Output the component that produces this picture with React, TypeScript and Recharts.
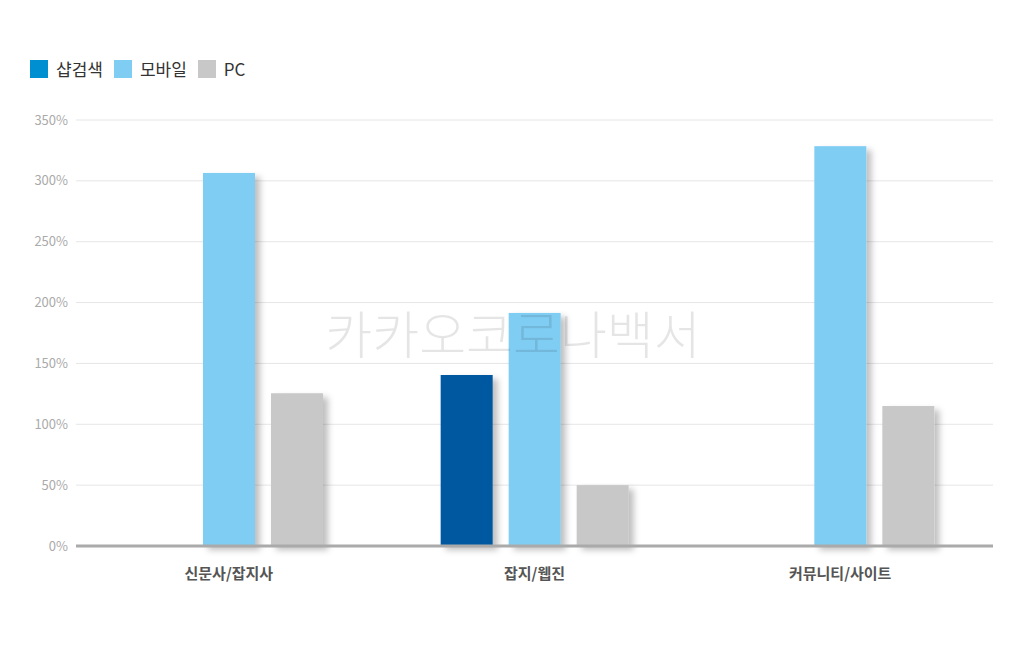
import { BarChart, Bar, XAxis, YAxis, CartesianGrid } from 'recharts';

const categories = ['신문사/잡지사', '잡지/웹진', '커뮤니티/사이트'];
const shopSearch = [null, 140.5, null];
const mobile = [306.5, 191.5, 328.5];
const pc = [125.5, 50, 115];
const yTicks = [0, 50, 100, 150, 200, 250, 300, 350];

const series = [
  { key: 'shop', name: '샵검색', fill: '#0059a1', legend: '#0090d2' },
  { key: 'mobile', name: '모바일', fill: '#80cdf4', legend: '#80cdf4' },
  { key: 'pc', name: 'PC', fill: '#c8c8c8', legend: '#c8c8c8' },
];

const data = categories.map((name, i) => ({
  name,
  shop: shopSearch[i],
  mobile: mobile[i],
  pc: pc[i],
}));

const font = '"Noto Sans CJK KR", "Noto Sans", sans-serif';

function ShadowBar(props: any) {
  const { x, y, width, height, fill } = props;
  if (!height || height <= 0) return null;
  return <rect x={x} y={y} width={width} height={height} fill={fill} filter="url(#barShadow)" />;
}

export default function App() {
  return (
    <div
      style={{
        position: 'absolute',
        left: 0,
        top: 0,
        width: 1024,
        height: 645,
        background: '#fff',
        fontFamily: font,
      }}
    >
      <svg width={0} height={0} style={{ position: 'absolute' }}>
        <defs>
          <filter id="barShadow" x="-20%" y="-20%" width="160%" height="140%">
            <feDropShadow dx={5} dy={4} stdDeviation={3} floodColor="#000" floodOpacity={0.25} />
          </filter>
        </defs>
      </svg>

      <div
        style={{
          position: 'absolute',
          left: 30,
          top: 56,
          display: 'flex',
          alignItems: 'center',
          fontSize: 17,
          color: '#333',
        }}
      >
        {series.map((s) => (
          <div key={s.key} style={{ display: 'flex', alignItems: 'center', marginRight: 11 }}>
            <span style={{ width: 18, height: 18, background: s.legend, display: 'inline-block', marginRight: 8 }} />
            <span>{s.name}</span>
          </div>
        ))}
      </div>

      <BarChart
        width={1024}
        height={645}
        data={data}
        margin={{ top: 120, right: 31, bottom: 0, left: 0 }}
        barSize={52}
        barGap={16}
      >
        <CartesianGrid vertical={false} stroke="#e6e6e6" />
        <XAxis
          dataKey="name"
          axisLine={{ stroke: '#aaaaaa', strokeWidth: 3 }}
          tickLine={false}
          tickMargin={16}
          tick={{ fontSize: 15, fill: '#555', fontWeight: 700, fontFamily: font }}
          height={99}
        />
        <YAxis
          width={76}
          domain={[0, 350]}
          ticks={yTicks}
          axisLine={false}
          tickLine={false}
          tickFormatter={(v: number) => `${v}%`}
          tick={{ fontSize: 13, fill: '#aaaaaa', fontFamily: font }}
        />
        {series.map((s) => (
          <Bar
            key={s.key}
            dataKey={s.key}
            name={s.name}
            fill={s.fill}
            shape={<ShadowBar />}
            isAnimationActive={false}
          />
        ))}
      </BarChart>

      <div
        style={{
          position: 'absolute',
          left: 0,
          width: 1026,
          top: 300,
          textAlign: 'center',
          fontSize: 51,
          fontWeight: 300,
          color: 'rgba(0,0,0,0.1)',
          letterSpacing: 0,
          pointerEvents: 'none',
          lineHeight: '64px',
        }}
      >
        카카오코로나백서
      </div>
    </div>
  );
}
